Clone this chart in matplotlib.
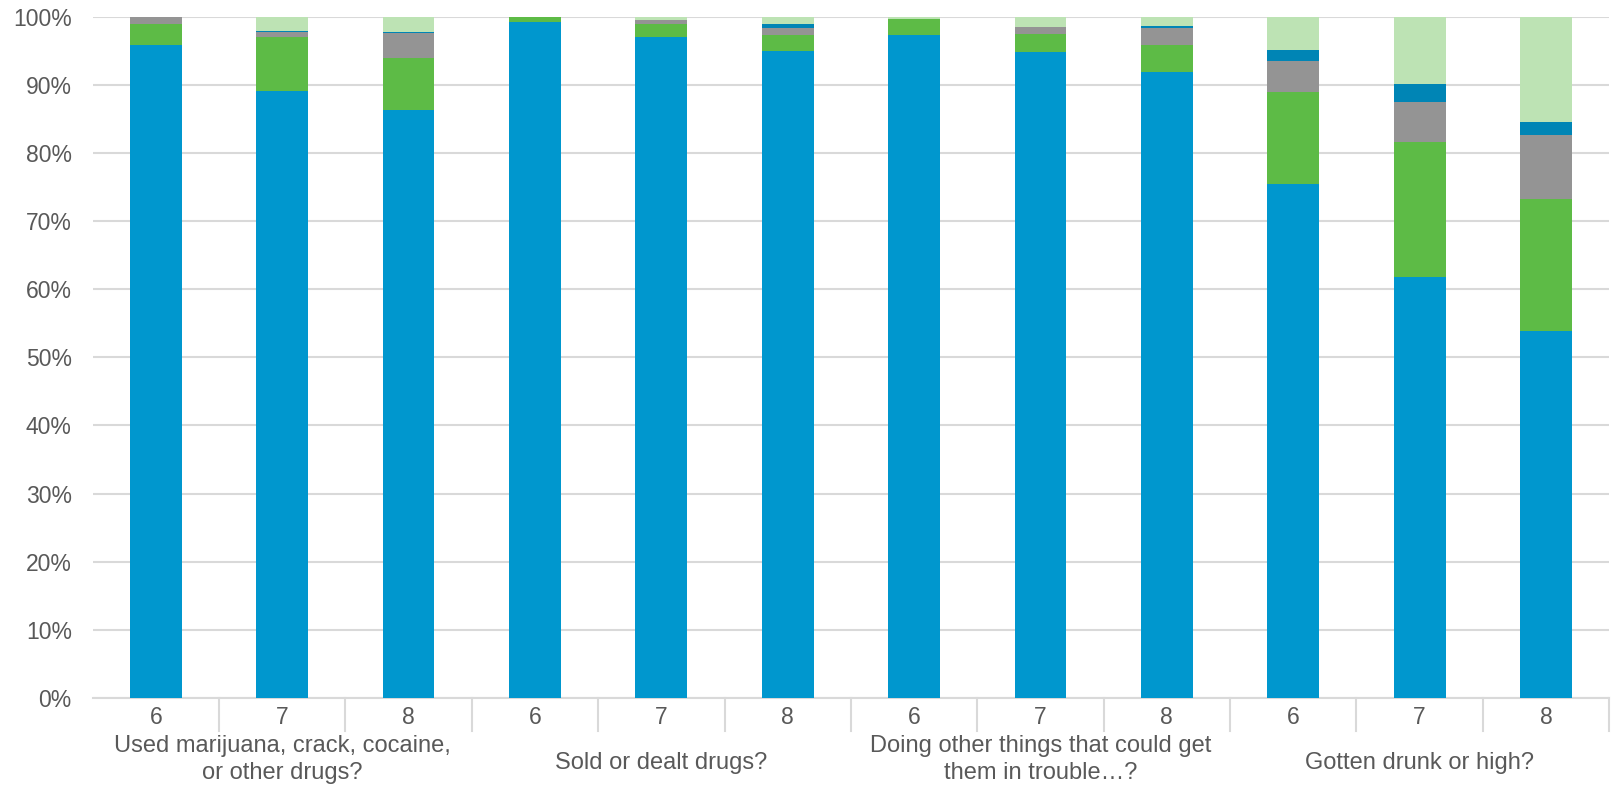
import matplotlib.pyplot as plt
import matplotlib.transforms as mtransforms
import numpy as np

plt.rcParams['font.family'] = ['Liberation Sans', 'DejaVu Sans']

# ======== Data ========
groups = ["Used marijuana, crack, cocaine,\nor other drugs?",
          "Sold or dealt drugs?",
          "Doing other things that could get\nthem in trouble…?",
          "Gotten drunk or high?"]
grades = ["6", "7", "8"]

# stacked segments, bottom to top (percent)
blue = [95.8, 89.1, 86.3, 99.2, 97.0, 95.0, 97.3, 94.8, 91.9, 75.4, 61.8, 53.8]
green = [3.1, 7.9, 7.7, 0.8, 1.9, 2.3, 2.35, 2.7, 3.9, 13.6, 19.8, 19.4]
gray = [1.1, 0.75, 3.6, 0.0, 0.6, 1.0, 0.0, 1.0, 2.5, 4.5, 5.9, 9.4]
dark_blue = [0.0, 0.15, 0.15, 0.0, 0.0, 0.6, 0.0, 0.0, 0.3, 1.6, 2.6, 1.9]
light_green = [0.0, 2.1, 2.25, 0.0, 0.5, 1.1, 0.35, 1.5, 1.4, 4.9, 9.9, 15.5]

series = [blue, green, gray, dark_blue, light_green]
colors = ['#0097CE', '#5DBB46', '#949494', '#0085B5', '#BDE3B4']

TEXT = '#595959'
GRID = '#D9D9D9'

# ======== Figure ========
fig = plt.figure(figsize=(16.14, 7.86), dpi=100)
ax = fig.add_axes([0.0574, 0.112, 0.9396, 0.8668])

x = np.arange(len(blue))
bottom = np.zeros(len(blue))
for vals, c in zip(series, colors):
    ax.bar(x, vals, width=0.41, bottom=bottom, color=c, zorder=3)
    bottom += np.array(vals)

ax.set_xlim(-0.5, len(blue) - 0.5)
ax.set_ylim(0, 100)
ax.set_yticks(np.arange(0, 101, 10))
ax.set_yticklabels([f"{v}%" for v in range(0, 101, 10)])
ax.yaxis.grid(True, color=GRID, lw=1.5, zorder=0)

ax.set_xticks(x)
ax.set_xticklabels(grades * len(groups))
ax.tick_params(axis='both', length=0, labelsize=16.5, colors=TEXT)
ax.tick_params(axis='x', pad=6)
ax.tick_params(axis='y', pad=15)

for s in ['top', 'left', 'right']:
    ax.spines[s].set_visible(False)
ax.spines['bottom'].set_color(GRID)
ax.spines['bottom'].set_linewidth(1.5)

# category separators below the axis
trans = mtransforms.blended_transform_factory(ax.transData, ax.transAxes)
for b in np.arange(0.5, len(blue), 1.0):
    ax.plot([b, b], [0, -0.049], color=GRID, lw=1.5, transform=trans,
            clip_on=False)

# group labels
for i, g in enumerate(groups):
    off = 44.5 if '\n' in g else 47
    ax.annotate(g, xy=(i * 3 + 1, 0), xycoords=trans,
                xytext=(0, -off), textcoords='offset points',
                ha='center', va='center', fontsize=17, color=TEXT,
                linespacing=1.27)

fig.savefig('out.png', dpi=100)
